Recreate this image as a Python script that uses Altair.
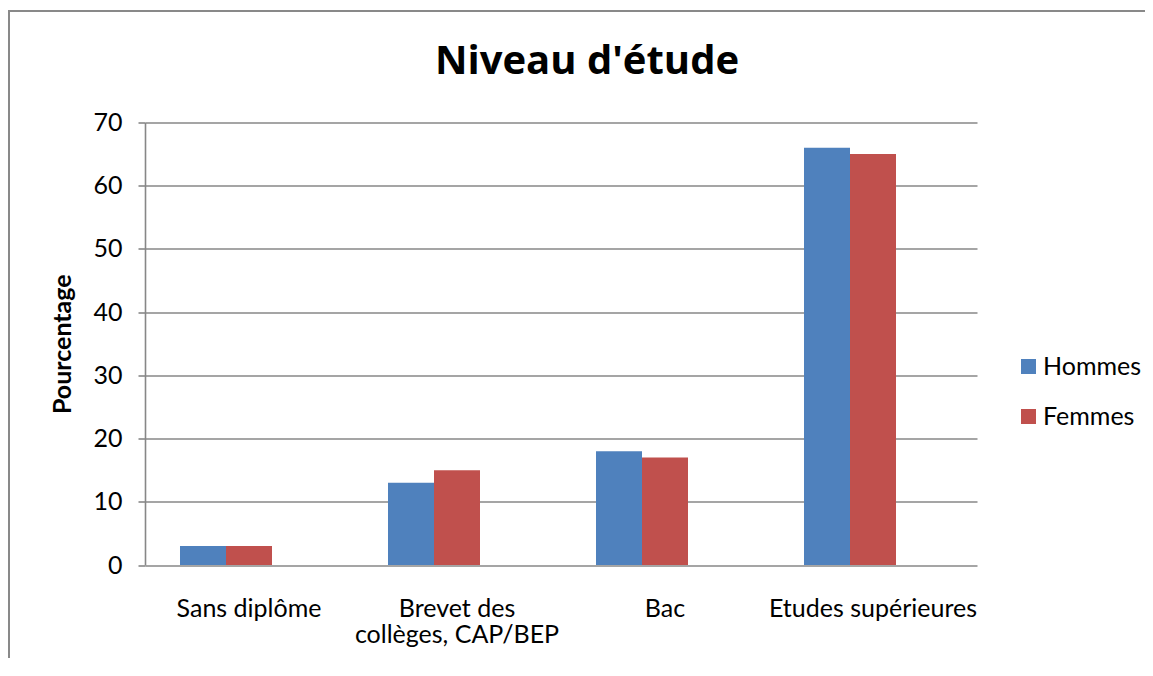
import altair as alt
import pandas as pd

title_text = "Niveau d'étude"
categories = ["Sans diplôme", "Brevet des collèges, CAP/BEP", "Bac", "Etudes supérieures"]
series = ["Hommes", "Femmes"]
hommes = [3, 13, 18, 66]
femmes = [3, 15, 17, 65]
colors = ["#4F81BD", "#C0504D"]
y_ticks = [0, 10, 20, 30, 40, 50, 60, 70]

rows = []
for c, h, f in zip(categories, hommes, femmes):
    rows.append({"cat": c, "serie": "Hommes", "val": h})
    rows.append({"cat": c, "serie": "Femmes", "val": f})
df = pd.DataFrame(rows)

FONT = "Lato"
GRID = "#878787"
W, H = 832, 442.5
PL, PT = 137, 114.5
PR = 1137 - PL - W
PB = 650 - PT - H

bars = alt.Chart(df).mark_bar(size=46).encode(
    x=alt.X("cat:N", sort=categories,
            scale=alt.Scale(paddingInner=0.3365, paddingOuter=0.16825),
            axis=alt.Axis(title=None, labelAngle=0, domain=False, ticks=False,
                          labelFont=FONT, labelFontSize=25, labelColor="#000",
                          labelPadding=31.5, labelLineHeight=25.5, labelLimit=0,
                          labelExpr="datum.value == 'Brevet des collèges, CAP/BEP' ? ['Brevet des', 'collèges, CAP/BEP'] : datum.value")),
    xOffset=alt.XOffset("serie:N", scale=alt.Scale(domain=["Hommes", "Femmes", "_"], paddingInner=0, paddingOuter=0)),
    y=alt.Y("val:Q", scale=alt.Scale(domain=[0, 70], nice=False),
            axis=alt.Axis(title="Pourcentage", values=y_ticks, grid=True, gridColor=GRID, gridWidth=1.6,
                          domainColor=GRID, domainWidth=1.6, tickColor=GRID, tickWidth=1.6, tickSize=7,
                          labelFont=FONT, labelFontSize=25, labelColor="#000", labelPadding=16,
                          titleFont=FONT, titleFontSize=25, titleFontWeight="bold", titleColor="#000",
                          titleAngle=-90, titleX=-83, titleY=H / 2, titleAlign="center", titleBaseline="middle")),
    color=alt.Color("serie:N", scale=alt.Scale(domain=series, range=colors),
                    legend=alt.Legend(title=None, orient="none", legendX=871, legendY=231.5,
                                      symbolType="square", symbolSize=225, symbolStrokeWidth=0,
                                      labelFont=FONT, labelFontSize=25, labelColor="#000", labelLimit=0,
                                      rowPadding=24, labelOffset=2, padding=0)),
)

frame = alt.Chart(pd.DataFrame({"k": [0]})).mark_rect(
    fill=None, stroke="#898989", strokeWidth=2, clip=False
).encode(
    x=alt.value(-136), x2=alt.value(1300), y=alt.value(-111.5), y2=alt.value(900)
)

title = alt.Chart(pd.DataFrame({"t": [title_text]})).mark_text(
    font="Open Sans", fontSize=40, fontWeight="bold", color="#000", align="center", baseline="alphabetic"
).encode(text="t:N", x=alt.value(442), y=alt.value(-48.5))

chart = alt.layer(frame, bars, title).properties(
    width=W, height=H,
    autosize=alt.AutoSizeParams(type="none"),
    padding={"left": PL, "top": PT, "right": PR, "bottom": PB},
).configure_view(stroke=None)

chart.save("out.html", embed_options={"renderer": "svg", "actions": False})
